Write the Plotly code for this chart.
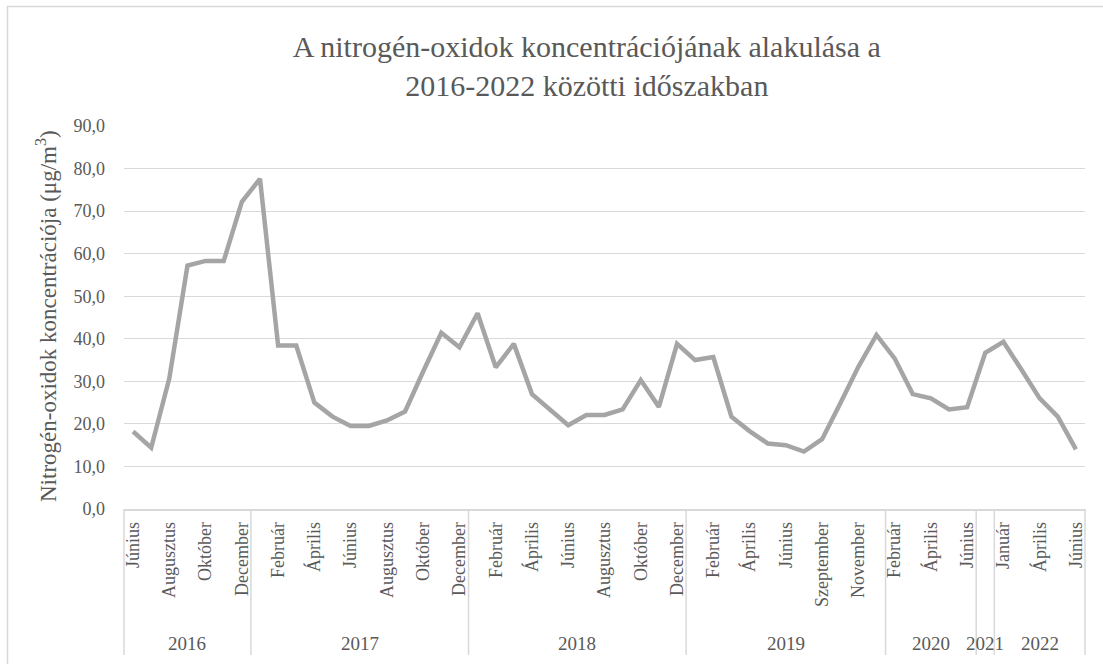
import plotly.graph_objects as go

# Monthly NOx concentration (µg/m³), grouped by year
years = ["2016", "2017", "2018", "2019", "2020", "2021", "2022"]
months_by_year = [
    ["Június", "Július", "Augusztus", "Szeptember", "Október", "November", "December"],
    ["Január", "Február", "Március", "Április", "Május", "Június", "Július",
     "Augusztus", "Szeptember", "Október", "November", "December"],
    ["Január", "Február", "Március", "Április", "Május", "Június", "Július",
     "Augusztus", "Szeptember", "Október", "November", "December"],
    ["Január", "Február", "Március", "Április", "Május", "Június", "Július",
     "Szeptember", "Október", "November", "December"],
    ["Február", "Március", "Április", "Május", "Június"],
    ["December"],
    ["Január", "Február", "Április", "Május", "Június"],
]
nox_2016 = [18.2, 14.4, 30.7, 57.2, 58.3, 58.3, 72.2]
nox_2017 = [77.6, 38.4, 38.4, 25.0, 21.7, 19.5, 19.5, 20.8, 22.9, 32.3, 41.4, 38.0]
nox_2018 = [46.0, 33.3, 38.8, 27.0, 23.4, 19.7, 22.1, 22.1, 23.4, 30.3, 24.0, 38.8]
nox_2019 = [35.0, 35.7, 21.7, 18.3, 15.4, 15.0, 13.5, 16.4, 24.8, 33.4, 40.9]
nox_2020 = [35.4, 27.0, 26.0, 23.4, 23.9]
nox_2021 = [36.7]
nox_2022 = [39.3, 32.7, 26.0, 21.7, 14.0]

values_by_year = [nox_2016, nox_2017, nox_2018, nox_2019, nox_2020, nox_2021, nox_2022]

FONT = "Liberation Serif, Times New Roman, serif"
TEXT = "#595959"
GRID = "#d9d9d9"

# Flatten to one sequential category axis
month_labels = [m for ms in months_by_year for m in ms]
values = [v for vs in values_by_year for v in vs]
n = len(values)
xs = list(range(n))

# Every second month gets a label
tick_vals = [i for i in xs if i % 2 == 0]
tick_text = [month_labels[i] for i in tick_vals]

fig = go.Figure()
fig.add_trace(go.Scatter(
    x=xs, y=values, mode="lines",
    line=dict(color="#a5a5a5", width=4.5),
    hoverinfo="skip", showlegend=False,
))

# Plot area geometry (pixels) used for placing the outer axis furniture
W, H = 1103, 664
L, R, T, B = 124, 18, 126, 155
pw, ph = W - L - R, H - T - B

def px_to_paper_y(py):
    return (H - B - py) / ph

def px_to_paper_x(px):
    return (px - L) / pw

shapes = []
annotations = []

# Year group dividers and year labels below the month labels
boundaries = [0]
for vs in values_by_year:
    boundaries.append(boundaries[-1] + len(vs))
div_bottom = px_to_paper_y(655)
for b in boundaries:
    shapes.append(dict(type="line", xref="paper", yref="paper",
                       x0=b / n, x1=b / n, y0=0, y1=div_bottom,
                       line=dict(color=GRID, width=1.5)))
for yr, start, vs in zip(years, boundaries[:-1], values_by_year):
    annotations.append(dict(
        x=start + (len(vs) - 1) / 2, y=px_to_paper_y(643),
        xref="x", yref="paper", text=yr, showarrow=False,
        xanchor="center", yanchor="middle",
        font=dict(family=FONT, size=19, color=TEXT)))

# Chart area border
shapes.append(dict(type="rect", xref="paper", yref="paper",
                   x0=px_to_paper_x(7.5), x1=px_to_paper_x(1110),
                   y0=px_to_paper_y(680), y1=px_to_paper_y(6.5),
                   line=dict(color=GRID, width=1.5), fillcolor="rgba(0,0,0,0)",
                   layer="below"))

# Y axis title
annotations.append(dict(
    x=px_to_paper_x(46), y=px_to_paper_y(316), xref="paper", yref="paper",
    text="Nitrogén-oxidok koncentrációja (μg/m<sup>3</sup>)",
    textangle=-90, showarrow=False, xanchor="center", yanchor="middle",
    font=dict(family=FONT, size=23, color=TEXT)))

fig.update_layout(
    width=W, height=H,
    margin=dict(l=L, r=R, t=T, b=B),
    paper_bgcolor="white", plot_bgcolor="white",
    separators=", ",
    title=dict(
        text="A nitrogén-oxidok koncentrációjának alakulása a<br>2016-2022 közötti időszakban",
        x=0.532, xanchor="center", y=1 - 57 / H, yanchor="top",
        font=dict(family=FONT, size=30, color=TEXT)),
    xaxis=dict(
        range=[-0.5, n - 0.5], tickmode="array",
        tickvals=tick_vals, ticktext=tick_text, tickangle=-90,
        showgrid=False, zeroline=False, ticks="",
        showline=True, linecolor=GRID, linewidth=1.5,
        ticklabelstandoff=4,
        tickfont=dict(family=FONT, size=18, color=TEXT)),
    yaxis=dict(
        range=[0, 90], dtick=10, tickformat=".1f",
        showgrid=True, gridcolor=GRID, gridwidth=1.3,
        zeroline=False, showline=False, ticks="",
        ticklabelstandoff=18,
        tickfont=dict(family=FONT, size=18, color=TEXT)),
    shapes=shapes, annotations=annotations,
)

fig.write_html("out.html")
